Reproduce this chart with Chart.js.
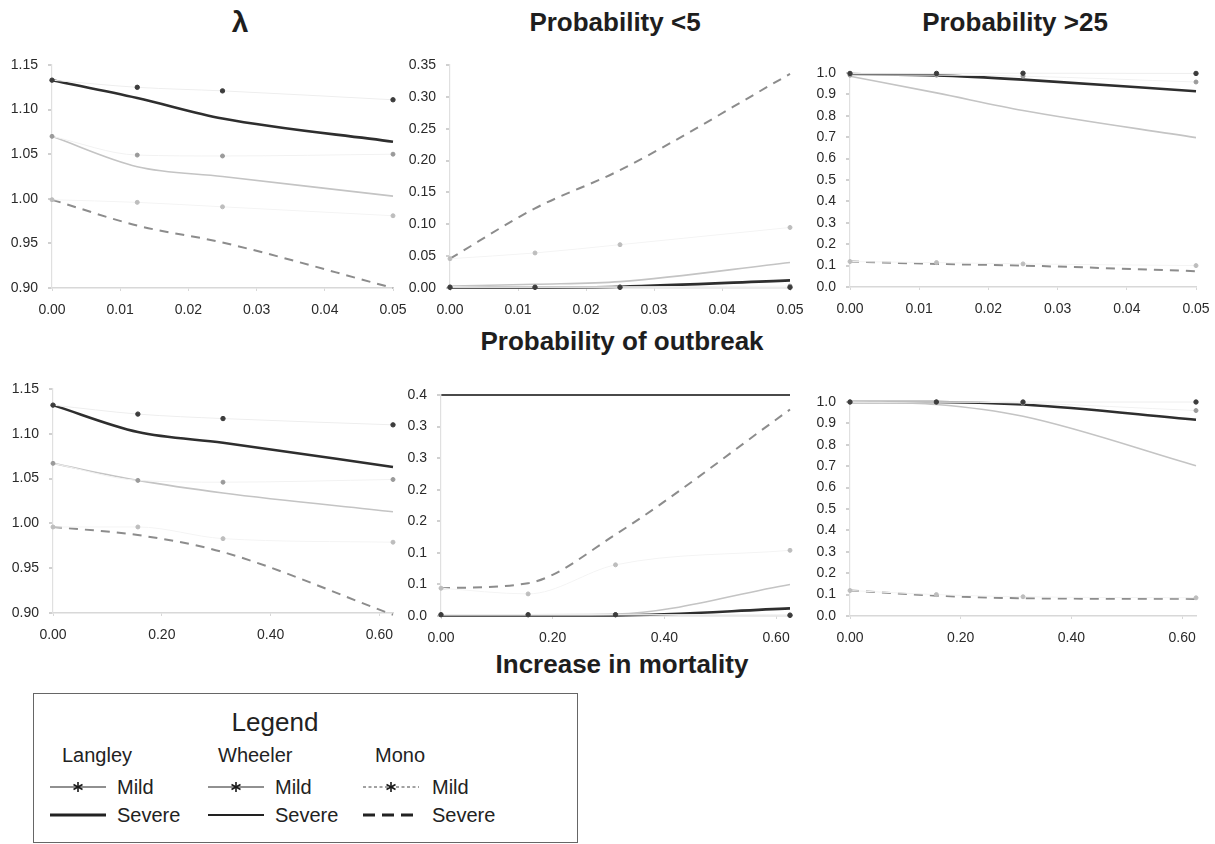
<!DOCTYPE html>
<html>
<head>
<meta charset="utf-8">
<script src="https://cdn.jsdelivr.net/npm/chart.js@4.4.1/dist/chart.umd.min.js"></script>
<style>
    body {
        margin: 0;
        background: #fff;
        width: 1215px;
        height: 844px;
        position: relative;
        overflow: hidden;
        font-family: "Liberation Sans", Arial, sans-serif;
        color: #222;
    }
    canvas { position: absolute; }
    .title {
        position: absolute;
        transform: translate(-50%, -50%);
        white-space: nowrap;
        font-weight: bold;
        font-size: 26px;
        color: #1e1e1e;
    }
    .legend-box {
        position: absolute;
        left: 33px;
        top: 693px;
        width: 543px;
        height: 148px;
        border: 1.5px solid #666;
    }
    .lg {
        position: absolute;
        white-space: nowrap;
        font-size: 20px;
        color: #222;
        transform: translateY(-50%);
    }
    .lg svg { display: block; }
</style>
</head>
<body>
<div class="title" style="left:240px;top:22px;font-size:30px;">λ</div>
<div class="title" style="left:615px;top:22px;">Probability &lt;5</div>
<div class="title" style="left:1015px;top:22px;">Probability &gt;25</div>
<div class="title" style="left:622px;top:341px;">Probability of outbreak</div>
<div class="title" style="left:622px;top:664px;">Increase in mortality</div>

<div class="legend-box"></div>
<div id="legend"></div>

<script>
// x positions (mortality increase)
const xTop = [0, 0.0125, 0.025, 0.05];
const xBottom = [0, 0.156, 0.3125, 0.625];

// tick labels
const xTopTicks = [0, 0.01, 0.02, 0.03, 0.04, 0.05];
const xBottomTicks = [0, 0.2, 0.4, 0.6];
const lambdaTicks = [0.90, 0.95, 1.00, 1.05, 1.10, 1.15];
const p5Ticks = [0, 0.05, 0.10, 0.15, 0.20, 0.25, 0.30, 0.35];
const p25Ticks = [0, 0.1, 0.2, 0.3, 0.4, 0.5, 0.6, 0.7, 0.8, 0.9, 1.0];

// top row - lambda
const lamTopLangleyMild = [1.133, 1.125, 1.121, 1.111];
const lamTopLangleySevere = [1.133, 1.113, 1.090, 1.064];
const lamTopWheelerMild = [1.070, 1.049, 1.048, 1.050];
const lamTopWheelerSevere = [1.070, 1.036, 1.025, 1.003];
const lamTopMonoMild = [0.999, 0.996, 0.991, 0.981];
const lamTopMonoSevere = [0.999, 0.970, 0.951, 0.900];

// top row - probability < 5
const p5TopLangleyMild = [0.001, 0.001, 0.001, 0.001];
const p5TopLangleySevere = [0.001, 0.001, 0.002, 0.012];
const p5TopWheelerMild = [0.002, 0.002, 0.002, 0.003];
const p5TopWheelerSevere = [0.003, 0.006, 0.010, 0.040];
const p5TopMonoMild = [0.046, 0.055, 0.068, 0.095];
const p5TopMonoSevere = [0.046, 0.125, 0.185, 0.336];

// top row - probability > 25
const p25TopLangleyMild = [0.998, 0.998, 0.999, 0.998];
const p25TopLangleySevere = [0.995, 0.989, 0.969, 0.915];
const p25TopWheelerMild = [0.990, 0.990, 0.985, 0.958];
const p25TopWheelerSevere = [0.985, 0.907, 0.825, 0.698];
const p25TopMonoMild = [0.119, 0.114, 0.108, 0.100];
const p25TopMonoSevere = [0.119, 0.108, 0.100, 0.074];

// bottom row - lambda
const lamBotLangleyMild = [1.132, 1.122, 1.117, 1.110];
const lamBotLangleySevere = [1.132, 1.102, 1.090, 1.063];
const lamBotWheelerMild = [1.067, 1.048, 1.046, 1.049];
const lamBotWheelerSevere = [1.067, 1.048, 1.034, 1.013];
const lamBotMonoMild = [0.996, 0.996, 0.983, 0.979];
const lamBotMonoSevere = [0.996, 0.987, 0.968, 0.898];

// bottom row - probability < 5
const p5BotLangleyMild = [0.002, 0.002, 0.002, 0.001];
const p5BotLangleySevere = [0.001, 0.001, 0.001, 0.012];
const p5BotWheelerMild = [0.002, 0.002, 0.002, 0.002];
const p5BotWheelerSevere = [0.002, 0.002, 0.003, 0.050];
const p5BotMonoMild = [0.044, 0.035, 0.081, 0.104];
const p5BotMonoSevere = [0.044, 0.052, 0.129, 0.327];

// bottom row - probability > 25
const p25BotLangleyMild = [1.0, 1.0, 1.0, 1.0];
const p25BotLangleySevere = [1.0, 1.0, 0.988, 0.917];
const p25BotWheelerMild = [1.0, 1.0, 0.995, 0.960];
const p25BotWheelerSevere = [1.0, 0.988, 0.933, 0.702];
const p25BotMonoMild = [0.119, 0.100, 0.090, 0.085];
const p25BotMonoSevere = [0.119, 0.095, 0.083, 0.080];

const FONT = "'Liberation Sans', Arial, sans-serif";
const YW = 54, XH = 36, PADT = 12, PADR = 26;

// series look, shared by all panels
const styles = {
    langleyMild: { borderColor: "#eeeeee", borderWidth: 1, pointRadius: 2.2, pointBackgroundColor: "#3c3c3c", pointBorderColor: "#3c3c3c" },
    langleySevere: { borderColor: "#2e2e2e", borderWidth: 2.6, pointRadius: 0 },
    wheelerMild: { borderColor: "#f2f2f2", borderWidth: 1, pointRadius: 2, pointBackgroundColor: "#9a9a9a", pointBorderColor: "#9a9a9a" },
    wheelerSevere: { borderColor: "#c4c4c4", borderWidth: 1.6, pointRadius: 0 },
    monoMild: { borderColor: "#f4f4f4", borderWidth: 1, pointRadius: 2, pointBackgroundColor: "#bdbdbd", pointBorderColor: "#bdbdbd" },
    monoSevere: { borderColor: "#8c8c8c", borderWidth: 2, borderDash: [9, 7], pointRadius: 0 },
};

function series(xs, ys, style) {
    return Object.assign({
        data: ys.map((v, i) => ({ x: xs[i], y: v })),
        cubicInterpolationMode: "monotone",
        clip: false,
        fill: false,
    }, style);
}

function panelSets(xs, lm, ls, wm, ws, mm, ms) {
    return [
        series(xs, lm, styles.langleyMild),
        series(xs, wm, styles.wheelerMild),
        series(xs, mm, styles.monoMild),
        series(xs, ms, styles.monoSevere),
        series(xs, ws, styles.wheelerSevere),
        series(xs, ls, styles.langleySevere),
    ];
}

function fixedTicks(values) {
    return (scale) => { scale.ticks = values.map((v) => ({ value: v })); };
}

function makePanel(box, xs, xTicks, yTicks, datasets, yFmt, extra) {
    const canvas = document.createElement("canvas");
    const w = box.r - box.l + YW + PADR;
    const h = box.b - box.t + PADT + XH;
    canvas.width = w;
    canvas.height = h;
    canvas.style.left = (box.l - YW) + "px";
    canvas.style.top = (box.t - PADT) + "px";
    document.body.appendChild(canvas);

    const topLine = extra && extra.topLine;

    new Chart(canvas, {
        type: "line",
        data: { datasets: datasets },
        options: {
            responsive: false,
            animation: false,
            events: [],
            layout: { padding: { left: 0, top: PADT, right: PADR, bottom: 0 } },
            plugins: { legend: { display: false }, tooltip: { enabled: false } },
            scales: {
                x: {
                    type: "linear",
                    min: xs[0],
                    max: xs[xs.length - 1],
                    afterBuildTicks: fixedTicks(xTicks),
                    afterFit: (s) => { s.height = XH; s.paddingLeft = 0; s.paddingRight = 0; },
                    border: { color: "#d8d8d8", width: 1.5 },
                    grid: { drawOnChartArea: false, tickLength: 3, color: "#d8d8d8" },
                    ticks: {
                        padding: 11,
                        maxRotation: 0,
                        autoSkip: false,
                        color: "#2a2a2a",
                        font: { family: FONT, size: 14 },
                        callback: (v) => Number(v).toFixed(2),
                    },
                },
                y: {
                    min: yTicks[0],
                    max: yTicks[yTicks.length - 1],
                    afterBuildTicks: fixedTicks(yTicks),
                    afterFit: (s) => { s.width = YW; s.paddingTop = 0; s.paddingBottom = 0; },
                    border: { color: "#e0e0e0", width: 1.2 },
                    grid: {
                        drawOnChartArea: !!topLine,
                        tickLength: 4,
                        tickColor: "#d0d0d0",
                        lineWidth: 2,
                        color: (ctx) => (topLine && ctx.tick && Math.abs(ctx.tick.value - topLine) < 1e-6)
                            ? "#4a4a4a" : "rgba(0,0,0,0)",
                    },
                    ticks: {
                        padding: 10,
                        autoSkip: false,
                        color: "#2a2a2a",
                        font: { family: FONT, size: 14 },
                        callback: yFmt,
                    },
                },
            },
        },
    });
}

const fmt2 = (v) => Number(v).toFixed(2);
const fmt1 = (v) => (Math.round(Number(v) * 10 + 1e-9) / 10).toFixed(1);

// top row
makePanel({ l: 52, r: 393, t: 65, b: 288 }, xTop, xTopTicks, lambdaTicks,
    panelSets(xTop, lamTopLangleyMild, lamTopLangleySevere, lamTopWheelerMild, lamTopWheelerSevere, lamTopMonoMild, lamTopMonoSevere), fmt2);
makePanel({ l: 450, r: 790, t: 65, b: 288 }, xTop, xTopTicks, p5Ticks,
    panelSets(xTop, p5TopLangleyMild, p5TopLangleySevere, p5TopWheelerMild, p5TopWheelerSevere, p5TopMonoMild, p5TopMonoSevere), fmt2);
makePanel({ l: 850, r: 1196, t: 73, b: 287 }, xTop, xTopTicks, p25Ticks,
    panelSets(xTop, p25TopLangleyMild, p25TopLangleySevere, p25TopWheelerMild, p25TopWheelerSevere, p25TopMonoMild, p25TopMonoSevere), fmt1);

// bottom row
makePanel({ l: 53, r: 393, t: 389, b: 613 }, xBottom, xBottomTicks, lambdaTicks,
    panelSets(xBottom, lamBotLangleyMild, lamBotLangleySevere, lamBotWheelerMild, lamBotWheelerSevere, lamBotMonoMild, lamBotMonoSevere), fmt2);
makePanel({ l: 441, r: 790, t: 395, b: 616 }, xBottom, xBottomTicks, p5Ticks,
    panelSets(xBottom, p5BotLangleyMild, p5BotLangleySevere, p5BotWheelerMild, p5BotWheelerSevere, p5BotMonoMild, p5BotMonoSevere), fmt1,
    { topLine: 0.35 });
makePanel({ l: 850, r: 1196, t: 402, b: 616 }, xBottom, xBottomTicks, p25Ticks,
    panelSets(xBottom, p25BotLangleyMild, p25BotLangleySevere, p25BotWheelerMild, p25BotWheelerSevere, p25BotMonoMild, p25BotMonoSevere), fmt1);

// legend line samples
const star = '<g stroke="#1a1a1a" stroke-width="1.6"><line x1="28" y1="1" x2="28" y2="11"/><line x1="23.5" y1="3.5" x2="32.5" y2="8.5"/><line x1="23.5" y1="8.5" x2="32.5" y2="3.5"/></g>';
function sample(kind) {
    const defs = {
        langleyMild: '<line x1="0" y1="6" x2="56" y2="6" stroke="#222" stroke-width="1.2"/>' + star,
        wheelerMild: '<line x1="0" y1="6" x2="56" y2="6" stroke="#222" stroke-width="1"/>' + star,
        monoMild: '<line x1="0" y1="6" x2="56" y2="6" stroke="#444" stroke-width="1" stroke-dasharray="3,2.5"/>' + star,
        langleySevere: '<line x1="0" y1="6" x2="56" y2="6" stroke="#222" stroke-width="3.2"/>',
        wheelerSevere: '<line x1="0" y1="6" x2="56" y2="6" stroke="#222" stroke-width="2"/>',
        monoSevere: '<line x1="0" y1="6" x2="56" y2="6" stroke="#222" stroke-width="3.2" stroke-dasharray="12,7"/>',
    };
    return '<svg width="56" height="12">' + defs[kind] + '</svg>';
}

const legendLabels = [
    { x: 275, y: 722, html: "Legend", size: 26, center: true },
    { x: 62, y: 755, html: "Langley" },
    { x: 218, y: 755, html: "Wheeler" },
    { x: 375, y: 755, html: "Mono" },
    { x: 117, y: 787, html: "Mild" },
    { x: 275, y: 787, html: "Mild" },
    { x: 432, y: 787, html: "Mild" },
    { x: 117, y: 815, html: "Severe" },
    { x: 275, y: 815, html: "Severe" },
    { x: 432, y: 815, html: "Severe" },
];
const legendSamples = [
    { x: 50, y: 787, kind: "langleyMild" },
    { x: 208, y: 787, kind: "wheelerMild" },
    { x: 363, y: 787, kind: "monoMild" },
    { x: 50, y: 815, kind: "langleySevere" },
    { x: 208, y: 815, kind: "wheelerSevere" },
    { x: 363, y: 815, kind: "monoSevere" },
];

const legend = document.getElementById("legend");
legendLabels.forEach((it) => {
    const d = document.createElement("div");
    d.className = "lg";
    d.style.left = it.x + "px";
    d.style.top = it.y + "px";
    if (it.size) d.style.fontSize = it.size + "px";
    if (it.center) d.style.transform = "translate(-50%, -50%)";
    d.textContent = it.html;
    legend.appendChild(d);
});
legendSamples.forEach((it) => {
    const d = document.createElement("div");
    d.className = "lg";
    d.style.left = it.x + "px";
    d.style.top = it.y + "px";
    d.innerHTML = sample(it.kind);
    legend.appendChild(d);
});
</script>
</body>
</html>
